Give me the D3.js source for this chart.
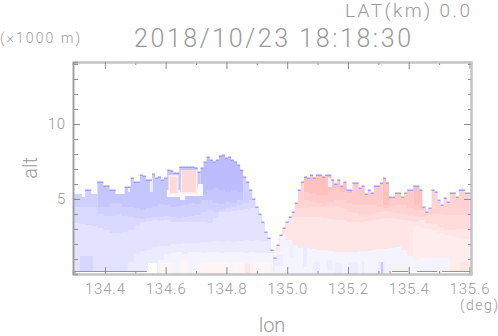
<!DOCTYPE html>
<html>
<head>
<meta charset="utf-8">
<script src="https://cdn.jsdelivr.net/npm/d3@7"></script>
<style>
	html, body { margin: 0; padding: 0; background: #fff; }
	svg { display: block; }
	text { font-family: "Roboto", "Liberation Sans", sans-serif; font-weight: 300; fill: #9a9a9a; }
</style>
</head>
<body>
<svg id="chart" width="498" height="336"></svg>
<script>
var title = '2018/10/23 18:18:30';
var latLabel = 'LAT(km) 0.0';
var unitLabel = '(\u00d71000 m)';
var degLabel = '(deg)';

var xMajor = [134.4, 134.6, 134.8, 135.0, 135.2, 135.4, 135.6];
var xMinor = [134.3, 134.5, 134.7, 134.9, 135.1, 135.3, 135.5];
var yMajor = [5, 10];
var yMinor = [1, 2, 3, 4, 6, 7, 8, 9, 11, 12, 13, 14];

// top of the echo per 0.01 deg column, km
var topAlt = [5.33,5.33,5.33,5.13,5.6,5.6,5.33,5.33,6.13,6.13,5.87,5.87,5.6,5.6,5.33,5.33,5.33,5.8,5.8,6.4,
	6.13,6.13,6.6,6.53,6.27,6.27,6.67,6.4,6.47,6.27,6.4,6.93,6.87,6.73,6.73,7.13,7.13,7.13,7.13,7.13,
	7.07,6.8,7.07,7.47,7.8,7.6,7.47,7.6,7.87,7.93,7.73,7.8,7.6,7.47,7.27,6.93,6.47,6.13,5.6,5.0,
	4.47,4.0,3.47,2.8,2.4,1.6,1.07,1.93,2.6,3.07,3.47,3.8,4.13,4.73,5.6,6.13,6.47,6.4,6.6,6.4,
	6.6,6.6,6.47,6.6,6.6,6.27,6.0,6.27,5.87,6.13,5.6,5.6,6.07,6.07,5.73,5.87,5.33,5.6,5.4,5.87,
	5.87,6.07,6.4,6.07,5.13,5.13,5.4,5.4,5.13,5.4,5.6,5.6,5.87,5.87,5.6,4.47,4.13,4.4,5.6,5.47,
	4.93,4.6,5.07,4.8,5.4,5.4,5.13,5.6,5.6,5.4,5.4,5.4];

// contour levels west of the notch, deepest painted first
var westValues = [-0.53, -0.45, -0.37, -0.3, -0.22, -0.16, -0.09];
var westA = [0,0,0,0,0,0,0,0,0,0,0,0,0,0,0,0,0,0,0,0,0,9,9,9,9,9,9,9,0,0,0,0,0,0];
var westB = [0,0,0,0,9,9,9,9,9,9,9,9,9,9,9,9,9,9,9,9,9,5.33,5.6,5.73,5.6,5.47,5.6,5.47,0,0,0,0,0,0];
var westC = [9,9,9,9,4.47,4.47,4.73,4.73,4.47,4.47,4.4,4.27,4.4,4.53,4.67,4.6,4.47,4.53,4.6,4.73,4.67,4.93,4.93,4.73,4.67,4.8,4.73,4.93,9,9,9,9,9,9];
var westD = [4.47,4.47,4.47,4.47,4,3.87,3.87,4,3.87,3.8,3.73,3.67,3.73,3.8,3.8,3.87,3.8,3.73,3.8,3.87,3.93,4.13,4.27,4.13,4.27,4.4,4.47,4.6,4.73,4.93,5.13,5.27,5.27,5.27];
var westE = [3.4,3.33,3.27,3.2,3.07,2.93,2.73,2.73,2.8,2.93,3.2,3.47,3.53,3.6,3.53,3.6,3.47,3.47,3.47,3.47,3.47,3.47,3.4,3.73,4.13,4.13,4.2,4.27,4.33,4.4,4.47,4.6,4.6,4.6];
var westF = [0,0,0,0,0,0,0,0,0,0.8,1.33,1.53,1.6,1.8,1.87,1.87,2,2,2.07,2.07,2.07,2.13,2.13,2.2,2.13,2.2,2.13,2.2,2.27,2.2,2.27,2.2,2.27,2.27];
var westG = [0,0,0,0,0,0,0,0,0,0,0,0,0,0,0.93,1.33,1.4,1.47,1.33,1.47,1.47,1.4,1.47,1.47,1.4,1.47,1.47,1.47,1.4,1.47,1.4,1.4,1.4,1.33];

// contour levels east of the notch
var eastValues = [0.5, 0.42, 0.35, 0.28, 0.2, 0.14, -0.09];
var eastA = [0,0,0,0,0,9,9,9,9,9,9,9,9,0,0,0,0,0,9,0,0,0,0,9,9,0,0,0,0,0,0,0,0,0];
var eastB = [0,0,0,0,0,5.47,5.4,5.27,5.27,5.6,5.73,5.47,5.4,9,9,9,9,9,4.6,9,9,9,9,4.6,4.4,9,0,0,0,0,0,0,0,0];
var eastC = [9,9,9,9,9,4.93,4.8,4.73,4.6,4.8,4.93,4.93,4.73,4.6,4.6,4.6,4.6,4.47,4.4,4.53,4.6,4.6,4.4,4.27,4.27,4.4,9,9,9,9,9,9,9,9];
var eastD = [4.27,4.6,4.6,4.47,4.4,4.4,4.47,4.47,4.47,4.47,4.47,4.4,4.13,4.07,3.93,3.93,4,4.13,4.2,4.13,4.07,4,3.93,3.87,3.8,3.93,4,4,3.93,3.93,3.93,3.93,3.87,3.87];
var eastE = [3.8,3.8,3.8,3.8,3.8,3.8,3.8,3.8,3.73,3.67,3.6,3.6,3.47,3.47,3.47,3.53,3.6,3.67,3.73,3.73,3.67,3.6,3.53,3.47,3.6,3.4,3.33,3.13,2.93,2.93,3,3,2.93,2.93];
var eastF = [0,0,0,0,0,0,0,0,0,0,0,0,0,0,0,0,0,0,0,0,0,0,0,3.2,3.07,3,2.93,2.73,2.6,2.53,2.4,2.33,2.27,2.27];
var eastG = [1.5,2.6,2.27,1.93,1.73,1.73,1.67,1.6,1.6,1.53,1.47,1.47,1.47,1.47,1.53,1.53,1.6,1.67,1.67,1.73,1.8,1.6,1.2,0.93,1.07,1.07,1.07,1.07,1.07,0,0,0,0,0];

// small cells that do not fit the level bands
var patchLon0 = [134.318,134.604,134.609,134.614,134.66,134.706,134.647,134.65,134.654,134.476,134.548,134.581,134.647,134.712,134.822,134.861,134.953,135.008,135.052,135.085,135.131,135.157,135.2,135.246,135.299,135.309,135.335,135.569,135.18,135.134];
var patchLon1 = [134.361,134.647,134.642,134.637,134.706,134.723,134.664,134.705,134.7,134.483,134.558,134.624,134.673,134.811,134.944,134.878,134.986,135.018,135.065,135.108,135.148,135.18,135.233,135.253,135.322,135.315,135.342,135.602,135.197,135.148];
var patchAlt0 = [0.2,5.13,5.3,5.4,5.2,5.2,4.93,5.33,5.47,5.47,5.47,0,0,0,0,0,0.53,1.13,0.47,0.13,0.27,0,0,0,0,0,0,0.13,5.6,5.8];
var patchAlt1 = [1.2,5.6,6.6,6.47,5.7,6,5.47,6.93,6.93,6.07,6.4,0.73,0.93,0.8,0.77,0.7,1.27,1.93,1.8,0.8,0.93,0.73,0.8,0.8,0.8,0.8,0.2,0.8,6.07,6.4];
var patchVal = [-0.32,-0.05,0.14,0.3,-0.04,-0.05,-0.04,0.14,0.3,-0.1,-0.15,0.08,0.08,0.08,0.08,0.2,-0.14,-0.14,-0.16,-0.14,-0.14,-0.14,-0.14,-0.14,-0.14,-0.48,0.6,0.2,0.5,-0.1];

// below the radar floor
var groundLon0 = [134.295,134.542,135.345,135.428,135.51];
var groundLon1 = [134.542,134.572,135.428,135.494,135.605];
var groundAlt = [0.2,0.73,0.2,0.2,0.2];
var floorLon0 = [134.295,135.345,135.428,135.51];
var floorLon1 = [134.538,135.398,135.494,135.605];

var topStart = 134.295, topStep = 0.01;
var bandStep = 0.02;
var westStart = 134.295, eastStart = 134.955;

var svg = d3.select('#chart');
var x = d3.scaleLinear().domain([134.295, 135.605]).range([73, 471]);
var y = d3.scaleLinear().domain([0, 14.13]).range([274, 62]);
var color = d3.scaleLinear().domain([-1, 0, 1]).range(['#8080ff', '#ffffff', '#ff8080']);

var defs = svg.append('defs');
var topArea = d3.area()
	.curve(d3.curveStepAfter)
	.x(function(d, i) { return x(topStart + topStep * i); })
	.y0(y(0))
	.y1(function(d) { return y(d); });
defs.append('clipPath').attr('id', 'echo')
	.append('path')
	.attr('d', topArea(topAlt));

var echo = svg.append('g').attr('clip-path', 'url(#echo)');

function drawBands(start, values, layers) {
	var area = d3.area()
		.curve(d3.curveStepAfter)
		.x(function(d, i) { return x(start + bandStep * i); })
		.y0(y(0))
		.y1(function(d) { return y(d); });
	layers.forEach(function(layer, i) {
		echo.append('path')
			.attr('d', area(layer))
			.attr('fill', color(values[i]));
	});
}
drawBands(westStart, westValues, [westA, westB, westC, westD, westE, westF, westG]);
drawBands(eastStart, eastValues, [eastA, eastB, eastC, eastD, eastE, eastF, eastG]);

echo.selectAll('rect.patch')
	.data(patchVal)
	.enter().append('rect')
	.attr('class', 'patch')
	.attr('x', function(d, i) { return x(patchLon0[i]); })
	.attr('width', function(d, i) { return x(patchLon1[i]) - x(patchLon0[i]); })
	.attr('y', function(d, i) { return y(patchAlt1[i]); })
	.attr('height', function(d, i) { return y(patchAlt0[i]) - y(patchAlt1[i]); })
	.attr('fill', function(d) { return color(d); });

svg.selectAll('rect.ground')
	.data(groundAlt)
	.enter().append('rect')
	.attr('class', 'ground')
	.attr('x', function(d, i) { return x(groundLon0[i]); })
	.attr('width', function(d, i) { return x(groundLon1[i]) - x(groundLon0[i]); })
	.attr('y', function(d) { return y(d); })
	.attr('height', function(d) { return y(0) - y(d); })
	.attr('fill', '#fff');

// blue cap on each column, the low flat stretch in the far west has none
svg.append('g').selectAll('rect')
	.data(topAlt)
	.enter().append('rect')
	.attr('x', function(d, i) { return x(topStart + topStep * i); })
	.attr('width', function(d, i) { return i == topAlt.length - 1 ? 0 : x(topStep) - x(0); })
	.attr('y', function(d) { return y(d) - 0.5; })
	.attr('height', 1.5)
	.attr('fill', '#9c9cff')
	.attr('opacity', function(d, i) { return (topStart + topStep * i < 134.5 && d < 5.34) ? 0 : 1; });

svg.append('g').selectAll('line')
	.data(floorLon0)
	.enter().append('line')
	.attr('x1', function(d) { return x(d); })
	.attr('x2', function(d, i) { return x(floorLon1[i]); })
	.attr('y1', y(0.2) + 0.5)
	.attr('y2', y(0.2) + 0.5)
	.attr('stroke', '#8888ff')
	.attr('stroke-width', 1);

function styleAxis(g, lineColor, width) {
	g.select('.domain').attr('stroke', lineColor).attr('stroke-width', width);
	g.selectAll('.tick line').attr('stroke', '#8c8c8c');
	g.selectAll('.tick text').style('font-size', '15px').style('letter-spacing', '0.8px');
}

function addAxis(axis, tx, ty, lineColor, width) {
	var g = svg.append('g').attr('transform', 'translate(' + tx + ',' + ty + ')').call(axis);
	styleAxis(g, lineColor, width);
	return g;
}

var f1 = d3.format('.1f');
addAxis(d3.axisBottom(x).tickValues(xMinor).tickSize(-3).tickFormat(''), 0, 274, '#c4c4c4', 2);
addAxis(d3.axisBottom(x).tickValues(xMajor).tickSizeInner(-7).tickSizeOuter(0).tickPadding(9).tickFormat(f1), 0, 274, '#c4c4c4', 2);
addAxis(d3.axisTop(x).tickValues(xMinor).tickSize(-3).tickFormat(''), 0, 62, '#c4c4c4', 2);
addAxis(d3.axisTop(x).tickValues(xMajor).tickSizeInner(-7).tickSizeOuter(0).tickFormat(''), 0, 62, '#c4c4c4', 2);
addAxis(d3.axisRight(y).tickValues(yMinor).tickSize(-3).tickFormat(''), 471, 0, '#c4c4c4', 2);
addAxis(d3.axisRight(y).tickValues(yMajor).tickSizeInner(-7).tickSizeOuter(0).tickFormat(''), 471, 0, '#c4c4c4', 2);
addAxis(d3.axisLeft(y).tickValues(yMinor).tickSize(-5).tickFormat(''), 73, 0, '#9c9c9c', 1.5);
addAxis(d3.axisLeft(y).tickValues(yMajor).tickSizeInner(-7).tickSizeOuter(0).tickPadding(7).tickFormat(d3.format('d')), 73, 0, '#9c9c9c', 1.5);

function label(str, px, py, size, anchor, len) {
	var t = svg.append('text')
		.attr('x', px).attr('y', py)
		.attr('text-anchor', anchor)
		.style('font-size', size + 'px')
		.text(str);
	if(len) {
		t.attr('textLength', len).attr('lengthAdjust', 'spacing');
	}
	return t;
}

label(latLabel, 345, 17, 19, 'start', 125);
label(title, 134, 47, 25, 'start', 277);
label(unitLabel, 0, 43, 14, 'start', 80);
label(degLabel, 460, 310, 14, 'start', 38);
label('lon', 272, 332, 20, 'middle');
label('alt', 0, 0, 20, 'middle').attr('transform', 'translate(37,168) rotate(-90)');
</script>
</body>
</html>
